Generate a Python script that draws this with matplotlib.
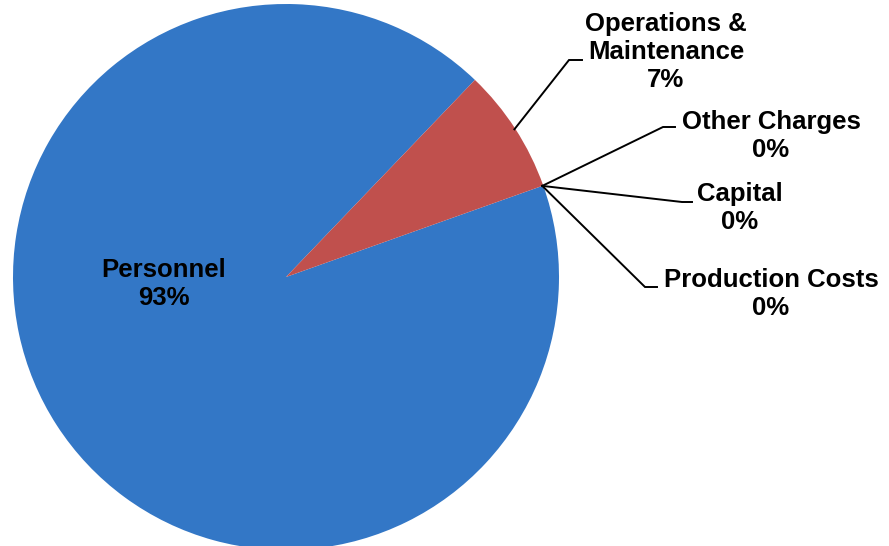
import numpy as np
import matplotlib
matplotlib.use("Agg")
import matplotlib.pyplot as plt

# Budget shares by category (percent)
categories = ["Personnel", "Operations &\nMaintenance", "Other Charges", "Capital", "Production Costs"]
values = [92.6, 7.4, 0.0, 0.0, 0.0]
colors = ["#3377C6", "#C0504D", "#9BBB59", "#8064A2", "#4BACC6"]

W, H = 889, 546
fig = plt.figure(figsize=(W / 100, H / 100), dpi=100)
ax = fig.add_axes([0, 0, 1, 1])

cx, cy, R = 286, 277, 273

# Canvas uses pixel-like coordinates with y pointing down, so angles run clockwise on screen
wedges, _ = ax.pie(values, colors=colors, startangle=-19.57, counterclock=True,
                   center=(cx, cy), radius=R, wedgeprops=dict(linewidth=0, edgecolor="none"))
ax.set_xlim(0, W)
ax.set_ylim(H, 0)
ax.set_aspect("equal")
ax.axis("off")

total = sum(values)
font = dict(family=["Liberation Sans", "DejaVu Sans"], fontweight="bold", fontsize=18.5,
            color="black", ha="center", va="center", linespacing=1.2)

def pct(v):
    return f"{round(v / total * 100)}%"

def edge_point(theta_deg, r=R):
    t = np.deg2rad(theta_deg)
    return cx + r * np.cos(t), cy + r * np.sin(t)

# Personnel label inside its slice
ax.text(164, 284, f"{categories[0]}\n{pct(values[0])}", **font)

# Outside labels with leader lines: (index, text centre, elbow, line end)
outside = [
    (1, (666, 52), (569, 60), (582, 60)),
    (2, (771, 136), (663, 127), (675, 127)),
    (3, (740, 208), (682, 202), (692, 202)),
    (4, (771, 294), (645, 287), (657, 287)),
]
for idx, txt_pos, elbow, end in outside:
    w = wedges[idx]
    sx, sy = edge_point((w.theta1 + w.theta2) / 2.0, R - 1)
    ax.plot([sx, elbow[0], end[0]], [sy, elbow[1], end[1]], color="black",
            linewidth=1.4, solid_joinstyle="miter", clip_on=False)
    ax.text(txt_pos[0], txt_pos[1], f"{categories[idx]}\n{pct(values[idx])}", **font)

fig.savefig("out.png", dpi=100, facecolor="white")
